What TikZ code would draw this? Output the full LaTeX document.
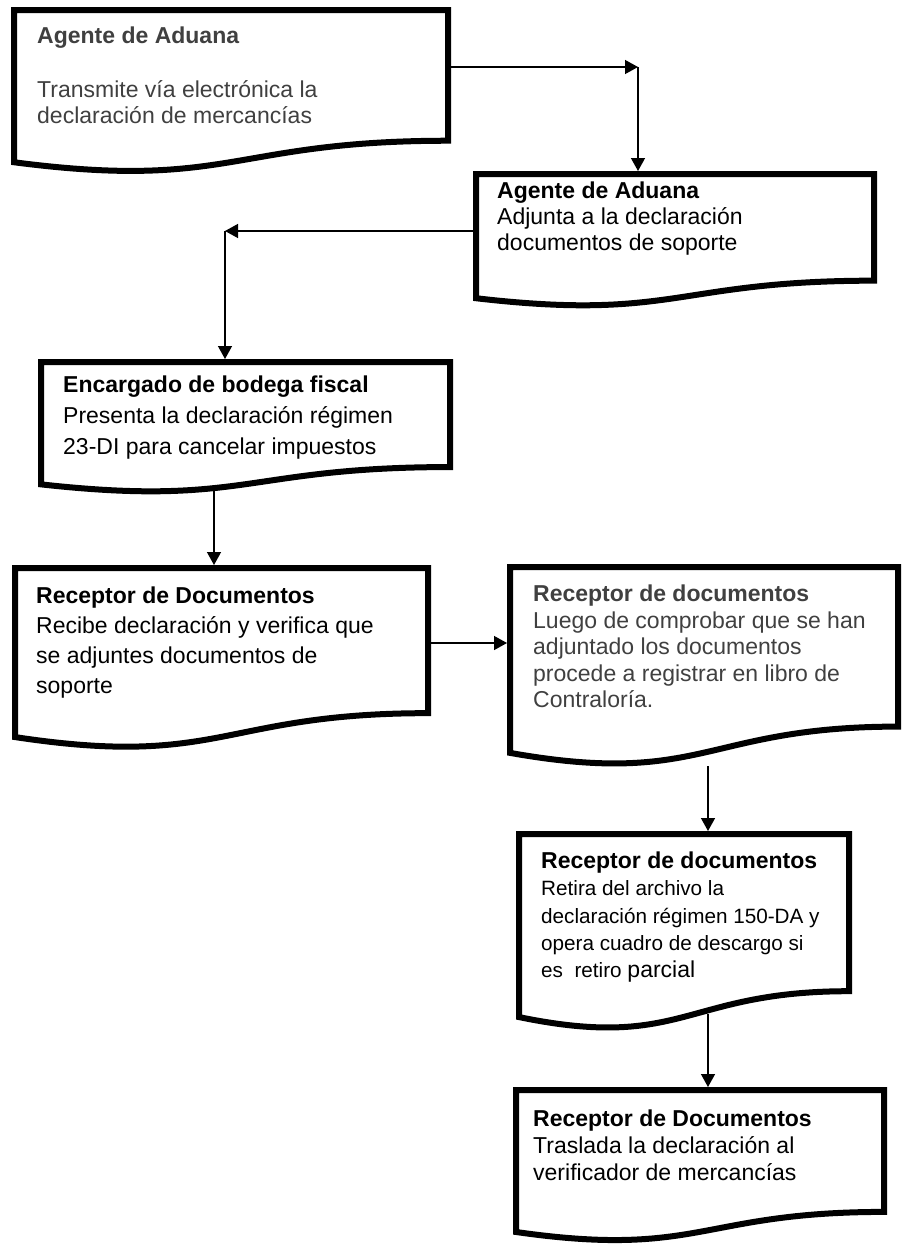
\documentclass[tikz,border=0pt]{standalone}
\usepackage{fontspec}
\setmainfont{Liberation Sans}
\usetikzlibrary{calc,arrows.meta}
\definecolor{txtgray}{HTML}{404040}
\tikzset{
 docbox/.style={draw=none, inner sep=0pt, outer sep=0pt, anchor=north west},
 docline/.style={line width=6pt, line join=miter, fill=white},
 conn/.style={line width=1.4pt, -{Triangle[length=13pt,width=14pt]}},
 lbl/.style={anchor=north west, inner sep=0pt, align=left},
}
\newcommand{\docshape}[1]{%
 \draw[docline] (#1.north west) -- (#1.north east) -- ($(#1.north east)!0.802!(#1.south east)$)
   .. controls ($(#1.north)!0.802!(#1.south)$) and ($(#1.north)!1.107!(#1.south)$) ..
   ($(#1.north west)!0.934!(#1.south west)$) -- cycle;}
\begin{document}
\begin{tikzpicture}[x=1pt,y=-1pt]
\useasboundingbox (0,0) rectangle (903,1245);
% boxes
\node[docbox, minimum width=434pt, minimum height=163pt] (b1) at (14,10) {};
\node[docbox, minimum width=398pt, minimum height=133pt] (b2) at (476,174) {};
\node[docbox, minimum width=409pt, minimum height=131pt] (b3) at (41,362) {};
\node[docbox, minimum width=413pt, minimum height=181pt] (b4) at (15,568) {};
\node[docbox, minimum width=388pt, minimum height=199pt] (b5) at (510,567) {};
\node[docbox, minimum width=330pt, minimum height=196pt] (b6) at (519,834) {};
\node[docbox, minimum width=368pt, minimum height=152pt] (b7) at (516,1090) {};
\docshape{b1}
\docshape{b2}
\docshape{b3}
\docshape{b4}
\docshape{b5}
\docshape{b6}
\docshape{b7}
% texts
\node[lbl, text=txtgray, font=\fontsize{23pt}{26.6pt}\selectfont] (t1) at (37,26.7)
 {\textbf{Agente de Aduana}\\[27.1pt]Transmite vía electrónica la\\declaración de mercancías};
\node[lbl, font=\fontsize{23pt}{26pt}\selectfont] (t2) at (497,181.7)
 {\textbf{Agente de Aduana}\\Adjunta a la declaración\\documentos de soporte};
\node[lbl, font=\fontsize{23pt}{31pt}\selectfont] (t3) at (63,375.7)
 {\textbf{Encargado de bodega fiscal}\\Presenta la declaración régimen\\23-DI para cancelar impuestos};
\node[lbl, font=\fontsize{23pt}{30pt}\selectfont] (t4) at (36,586.7)
 {\textbf{Receptor de Documentos}\\Recibe declaración y verifica que\\se adjuntes documentos de\\soporte};
\node[lbl, text=txtgray, font=\fontsize{23pt}{26.5pt}\selectfont] (t5) at (533,584.7)
 {\textbf{Receptor de documentos}\\Luego de comprobar que se han\\adjuntado los documentos\\procede a registrar en libro de\\Contraloría.};
\node[lbl, font=\fontsize{20.7pt}{27.3pt}\selectfont] (t6) at (541,851.7)
 {{\fontsize{23pt}{27.3pt}\selectfont\textbf{Receptor de documentos}}\\Retira del archivo la\\declaración régimen 150-DA y\\opera cuadro de descargo si\\es\ \ retiro {\fontsize{23pt}{27.3pt}\selectfont parcial}};
\node[lbl, font=\fontsize{23pt}{27pt}\selectfont] (t7) at (533,1109.7)
 {\textbf{Receptor de Documentos}\\Traslada la declaración al\\verificador de mercancías};
% connectors
\coordinate (c1) at (638,67);
\coordinate (c2) at (225,231);
\coordinate (x3) at (214,0);
\coordinate (y4) at (0,643);
\coordinate (x5) at (708,0);
\draw[conn] (b1.east |- c1) -- (c1);
\draw[conn, shorten >=3pt] (c1) -- (b2.north -| c1);
\draw[conn] (b2.west |- c2) -- (c2);
\draw[conn, shorten >=3pt] (c2) -- (b3.north -| c2);
\draw[conn, shorten >=3pt] ($(b3.north -| x3)!0.96!(b3.south -| x3)$) -- (b4.north -| x3);
\draw[conn, shorten >=3pt] (b4.east |- y4) -- (b5.west |- y4);
\draw[conn, shorten >=3pt] (b5.south -| x5) -- (b6.north -| x5);
\draw[conn, shorten >=3pt] ($(b6.north -| x5)!0.92!(b6.south -| x5)$) -- (b7.north -| x5);
\end{tikzpicture}
\end{document}
